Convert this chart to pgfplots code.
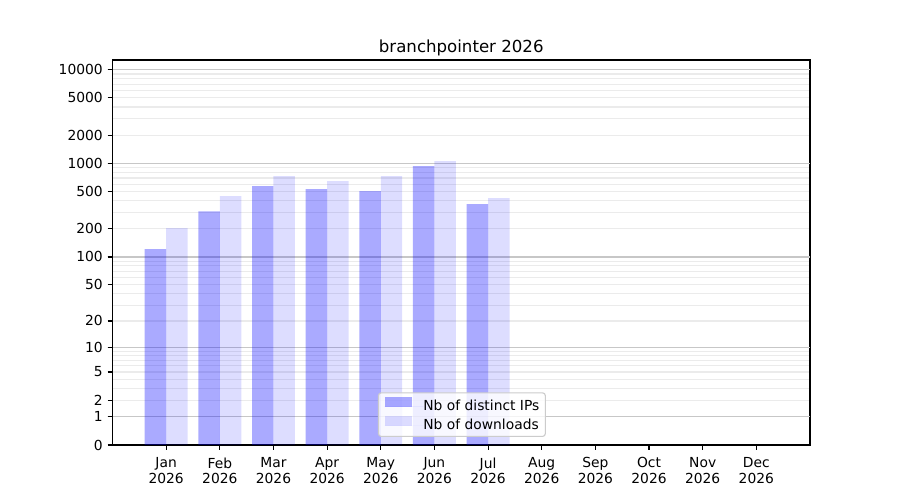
\documentclass[border=0pt]{standalone}
\usepackage{fontspec}
\setmainfont{DejaVu Sans}
\usepackage{pgfplots}
\pgfplotsset{compat=1.18}
\begin{document}
\begin{tikzpicture}
\path[use as bounding box] (0,0) rectangle (9in,5in);
\begin{axis}[
  at={(1.125in,0.55in)}, anchor=south west,
  scale only axis, width=6.975in, height=3.85in,
  xmin=-1, xmax=12, ymin=0, ymax=12690,
  y coord trafo/.code={\pgfmathparse{log10(#1+1)}},
  axis line style={line width=0.8bp},
  tick align=outside, tick pos=left,
  major tick length=3.5bp, minor tick length=0pt,
  every tick/.style={black, line width=0.8bp},
  font=\fontsize{10}{12}\selectfont,
  /pgf/number format/assume math mode=true,
  xtick={0,...,11},
  xticklabels={Jan\\2026,Feb\\2026,Mar\\2026,Apr\\2026,May\\2026,Jun\\2026,Jul\\2026,Aug\\2026,Sep\\2026,Oct\\2026,Nov\\2026,Dec\\2026},
  xticklabel style={align=center, yshift=-2bp, font=\fontsize{10}{11.3}\selectfont},
  ytick={0,1,2,5,10,20,50,100,200,500,1000,2000,5000,10000},
  yticklabels={0,1,2,5,10,20,50,100,200,500,1000,2000,5000,10000},
  yticklabel style={font=\fontsize{10}{12}\selectfont},
  minor ytick={2,3,4,5,6,7,8,9,20,30,40,50,60,70,80,90,200,300,400,500,600,700,800,900,2000,3000,4000,5000,6000,7000,8000,9000},
  yminorgrids,
  minor grid style={color=black!8, line width=0.8bp},
  extra y ticks={1,10,100,1000,10000},
  extra y tick labels={},
  extra y tick style={grid=major, major grid style={color=black!22, line width=0.8bp}},
  title={branchpointer 2026},
  title style={at={(0.5,1)}, anchor=south, inner sep=0pt, yshift=-3.4bp, font=\fontsize{12}{14}\selectfont},
  legend image code/.code={\fill[#1, sharp corners] (0pt,0pt) rectangle (20bp,7bp); \path[sharp corners] (0pt,0pt) -- (28bp,0pt);},
  legend cell align=left,
  legend style={at={(0.3806,0.0208)}, anchor=south west, draw=black!20, line width=0.8bp, rounded corners=2bp, fill=white, fill opacity=0.8, text opacity=1, inner xsep=4.3bp, inner ysep=3bp, row sep=2bp, nodes={inner sep=0pt, text height=7.3bp, text depth=2.1bp}, font=\fontsize{10}{12}\selectfont},
]
\addplot[ybar, bar width=0.4, bar shift=-0.2, fill=blue, fill opacity=0.333, draw=none] table {
x y
0 121
1 309
2 572
3 532
4 506
5 935
6 368
};
\addlegendentry{Nb of distinct IPs}
\addplot[ybar, bar width=0.4, bar shift=0.2, fill=blue, fill opacity=0.133, draw=none] table {
x y
0 204
1 448
2 732
3 647
4 732
5 1057
6 426
};
\addlegendentry{Nb of downloads}
\end{axis}
\end{tikzpicture}
\end{document}
